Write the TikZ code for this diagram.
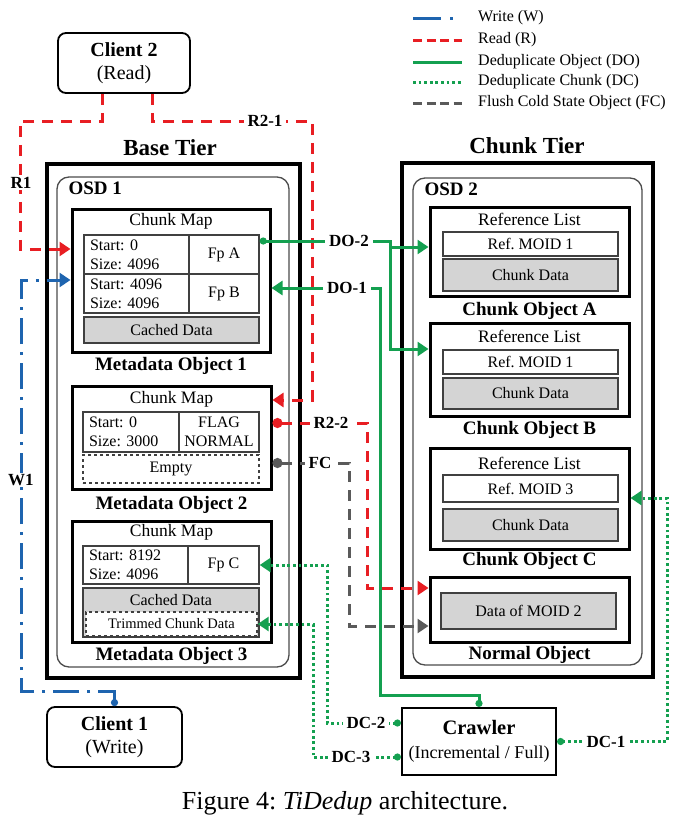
\documentclass[tikz,border=0pt]{standalone}
\usepackage{fontspec}
\setmainfont{Liberation Serif}
\usetikzlibrary{arrows.meta, positioning}

\definecolor{wblue}{RGB}{30,100,175}
\definecolor{rred}{RGB}{232,30,35}
\definecolor{dgreen}{RGB}{20,160,80}
\definecolor{fcgrey}{RGB}{90,90,90}
\definecolor{cellgrey}{RGB}{212,212,212}

\newcommand\cellfnt{\fontsize{16}{19}\selectfont}
\newcommand\headfnt{\fontsize{17.5}{20}\selectfont}
\newcommand\subfnt{\fontsize{19}{22}\selectfont\bfseries}
\newcommand\tierfnt{\fontsize{23}{26}\selectfont\bfseries}
\newcommand\clientfnt{\fontsize{20}{23}\selectfont}
\newcommand\lblfnt{\fontsize{17}{20}\selectfont\bfseries}
\newcommand\lgdfnt{\fontsize{16}{19}\selectfont}
\newcommand\captfnt{\fontsize{26}{30}\selectfont}
\newcommand\trimfnt{\fontsize{14.5}{17}\selectfont}
\frenchspacing

\begin{document}
\begin{tikzpicture}[x=1pt, y=-1pt,
    tier/.style={draw, line width=3.5pt, inner sep=0pt},
    osd/.style={draw=black!70, line width=1.3pt, rounded corners=12pt, inner sep=0pt},
    obj/.style={draw, line width=3pt, inner sep=0pt},
    cell/.style={draw=black!75, line width=1.4pt, inner sep=0pt, font=\cellfnt, align=center},
    lcell/.style={cell, align=left},
    grey/.style={cell, fill=cellgrey},
    hollow/.style={cell, dashed, fill=white},
    client/.style={draw, line width=1.8pt, rounded corners=8pt, inner sep=0pt, align=center, font=\clientfnt},
    head/.style={inner sep=0pt, font=\headfnt},
    subttl/.style={inner sep=0pt, font=\subfnt},
    lbl/.style={fill=white, inner xsep=4pt, inner ysep=1pt, font=\lblfnt},
    lgd/.style={anchor=west, inner sep=0pt, font=\lgdfnt},
    wline/.style={wblue, line width=3pt, dash pattern=on 26pt off 8pt on 3pt off 8pt},
    rline/.style={rred, line width=3pt, dash pattern=on 11pt off 8pt},
    doline/.style={dgreen, line width=3pt},
    dcline/.style={dgreen, line width=3pt, dash pattern=on 2.8pt off 2.8pt},
    fcline/.style={fcgrey, line width=3pt, dash pattern=on 11pt off 8pt},
    tip/.style={-{Triangle[length=11pt,width=14pt]}},
    dottip/.style={{Circle[length=10pt]}-{Triangle[length=11pt,width=14pt]}},
    gdottip/.style={{Circle[length=7pt]}-{Triangle[length=11pt,width=14pt]}},
  ]
  \useasboundingbox (0,0) rectangle (692,827);

  % Leyenda
  \draw[wline, dash pattern=on 28pt off 9pt on 3pt off 20pt] (413,18) -- (462,18);
  \node[lgd] (lgw) at (478,18) {Write (W)};
  \draw[rline, dash pattern=on 9pt off 4.5pt] (413,40) -- (462,40);
  \node[lgd] (lgr) at (478,40) {Read (R)};
  \draw[doline] (413,62) -- (462,62);
  \node[lgd] (lgdo) at (478,62) {Deduplicate Object (DO)};
  \draw[dcline] (413,82) -- (462,82);
  \node[lgd] (lgdc) at (478,82) {Deduplicate Chunk (DC)};
  \draw[fcline, dash pattern=on 9pt off 4.5pt] (413,103) -- (462,103);
  \node[lgd] (lgfc) at (478,103) {Flush Cold State Object (FC)};

  % Clientes
  \node[client, minimum width=132pt, minimum height=60pt] (cl2) at (124,63) {{\bfseries Client 2}\\(Read)};
  \node[client, minimum width=135pt, minimum height=60pt] (cl1) at (114.5,737) {{\bfseries Client 1}\\(Write)};

  % Base Tier
  \node[tier, minimum width=253pt, minimum height=514pt] (base) at (173.5,421) {};
  \node[inner sep=0pt, font=\tierfnt] (basettl) at (170,148) {Base Tier};
  \node[osd, minimum width=232pt, minimum height=490pt] (osd1) at (173,422) {};
  \node[subttl, anchor=north west] (osd1ttl) at ([xshift=12pt,yshift=-5pt]osd1.north west) {OSD 1};

  % Metadata Object 1
  \node[obj, minimum width=198pt, minimum height=143pt] (mo1) at (171,280.5) {};
  \node[head] (cm1) at ([yshift=-14pt]mo1.north) {Chunk Map};
  \node[lcell, minimum width=105pt, minimum height=39pt, text width=93pt] (sa) at (136.5,254.5) {Start: 0\\Size: 4096};
  \node[cell, minimum width=70pt, minimum height=39pt] (fpa) at (224,254.5) {Fp A};
  \node[lcell, minimum width=105pt, minimum height=39pt, text width=93pt] (sb) at (136.5,293.5) {Start: 4096\\Size: 4096};
  \node[cell, minimum width=70pt, minimum height=39pt] (fpb) at (224,293.5) {Fp B};
  \node[grey, minimum width=175pt, minimum height=26pt] (cache1) at (171.5,330) {Cached Data};
  \node[subttl] (mo1ttl) at ([yshift=-12pt]mo1.south) {Metadata Object 1};

  % Metadata Object 2
  \node[obj, minimum width=199pt, minimum height=103pt] (mo2) at (171.5,437.5) {};
  \node[head] (cm2) at ([yshift=-15pt]mo2.north) {Chunk Map};
  \node[lcell, minimum width=96pt, minimum height=40pt, text width=84pt] (s2) at (131,432) {Start: 0\\Size: 3000};
  \node[cell, minimum width=80pt, minimum height=40pt] (flag) at (219,432) {FLAG\\NORMAL};
  \node[hollow, minimum width=176pt, minimum height=28pt] (empty) at (171,469) {Empty};
  \node[subttl] (mo2ttl) at ([yshift=-14pt]mo2.south) {Metadata Object 2};

  % Metadata Object 3
  \node[obj, minimum width=199pt, minimum height=121pt] (mo3) at (171.5,581.5) {};
  \node[head] (cm3) at ([yshift=-13pt]mo3.north) {Chunk Map};
  \node[lcell, minimum width=105pt, minimum height=38pt, text width=93pt] (s3) at (135.5,565) {Start: 8192\\Size: 4096};
  \node[cell, minimum width=71pt, minimum height=38pt] (fpc) at (223.5,565) {Fp C};
  \node[grey, minimum width=176pt, minimum height=49pt] (cache3) at (171,612.5) {};
  \node[inner sep=0pt, font=\cellfnt] (cache3ttl) at ([yshift=-13pt]cache3.north) {Cached Data};
  \node[hollow, minimum width=171pt, minimum height=24pt, font=\trimfnt] (trim) at (171.5,624) {Trimmed Chunk Data};
  \node[subttl] (mo3ttl) at ([yshift=-12pt]mo3.south) {Metadata Object 3};

  % Chunk Tier
  \node[tier, minimum width=251pt, minimum height=514pt] (chunk) at (527.5,420) {};
  \node[inner sep=0pt, font=\tierfnt] (chunkttl) at (527,146) {Chunk Tier};
  \node[osd, minimum width=229pt, minimum height=487pt] (osd2) at (527.5,421.5) {};
  \node[subttl, anchor=north west] (osd2ttl) at ([xshift=12pt,yshift=-5pt]osd2.north west) {OSD 2};

  % Chunk Object A
  \node[obj, minimum width=199pt, minimum height=89pt] (cha) at (529.5,251.5) {};
  \node[head] (rla) at ([yshift=-14pt]cha.north) {Reference List};
  \node[cell, minimum width=175pt, minimum height=24pt] (refa) at (530.5,244) {Ref. MOID 1};
  \node[grey, minimum width=175pt, minimum height=32pt] (dataa) at (530.5,275) {Chunk Data};
  \node[subttl] (chattl) at ([yshift=-13pt]cha.south) {Chunk Object A};

  % Chunk Object B
  \node[obj, minimum width=199pt, minimum height=93pt] (chb) at (529.5,369.5) {};
  \node[head] (rlb) at ([yshift=-15pt]chb.north) {Reference List};
  \node[cell, minimum width=175pt, minimum height=24pt] (refb) at (530.5,362) {Ref. MOID 1};
  \node[grey, minimum width=175pt, minimum height=31pt] (datab) at (530.5,393.5) {Chunk Data};
  \node[subttl] (chbttl) at ([yshift=-12pt]chb.south) {Chunk Object B};

  % Chunk Object C
  \node[obj, minimum width=199pt, minimum height=101pt] (chc) at (529.5,498.5) {};
  \node[head] (rlc) at ([yshift=-17pt]chc.north) {Reference List};
  \node[cell, minimum width=175pt, minimum height=27pt] (refc) at (530.5,488.5) {Ref. MOID 3};
  \node[grey, minimum width=175pt, minimum height=32pt] (datac) at (530.5,525) {Chunk Data};
  \node[subttl] (chcttl) at ([yshift=-10pt]chc.south) {Chunk Object C};

  % Normal Object
  \node[obj, minimum width=199pt, minimum height=65pt] (normal) at (529.5,609.5) {};
  \node[grey, minimum width=175pt, minimum height=36pt] (data2) at (528.5,611) {Data of MOID 2};
  \node[subttl] (normalttl) at ([yshift=-11pt]normal.south) {Normal Object};

  % Crawler
  \node[draw, line width=2.2pt, minimum width=154pt, minimum height=67pt, inner sep=0pt, align=center,
        font=\fontsize{18}{24}\selectfont] (crawler) at (479,741.5)
        {{\fontsize{20.5}{24}\selectfont\bfseries Crawler}\\(Incremental / Full)};

  % Escritura
  \draw[wline, gdottip] (cl1.north) -- (cl1.north |- 0,691) -| (21,280) -- (mo1.west |- 0,280);
  % Lecturas
  \draw[rline, tip] (cl2.south -| 102,0) -- (102,121) -| (20,249) -- (mo1.west |- 0,249);
  \draw[rline, tip] (cl2.south -| 152,0) -- (152,121) -| (312,400) -- (mo2.east |- 0,400);
  \draw[rline, dottip] (mo2.east |- 0,423) -- (367,423) |- (normal.west |- 0,588);
  % Flush
  \draw[fcline, dottip] (mo2.east |- 0,463) -- (349,463) |- (normal.west |- 0,626);
  % Deduplicate Object
  \coordinate (dosplit) at (390,241);
  \draw[doline, gdottip] (fpa.east |- 0,241) -- (dosplit) |- (cha.west |- 0,247);
  \draw[doline, tip] (dosplit) |- (chb.west |- 0,349);
  \draw[doline, gdottip] (crawler.north) -- (crawler.north |- 0,695) -| (380,288) -- (mo1.east |- 0,288);
  % Deduplicate Chunk
  \draw[dcline, gdottip] (crawler.east) -- (667,741.5) |- (chc.east |- 0,498);
  \draw[dcline, gdottip] (crawler.west |- 0,723) -- (327,723) |- (fpc.east);
  \draw[dcline, gdottip] (crawler.west |- 0,757) -- (313,757) |- (trim.east);

  % Etiquetas
  \node[lbl] (lw1) at (21,480) {W1};
  \node[lbl] (lr1) at (21,183) {R1};
  \node[lbl] (lr21) at (265,121) {R2-1};
  \node[lbl] (lr22) at (331,423) {R2-2};
  \node[lbl] (lfc) at (320,463) {FC};
  \node[lbl] (ldo2) at (349,241) {DO-2};
  \node[lbl] (ldo1) at (347,288) {DO-1};
  \node[lbl] (ldc1) at (606,741.5) {DC-1};
  \node[lbl] (ldc2) at (366,723) {DC-2};
  \node[lbl] (ldc3) at (351,757) {DC-3};

  % Pie de figura
  \node[inner sep=0pt, font=\captfnt] (cap) at (345,803) {Figure 4: \textit{TiDedup} architecture.};
\end{tikzpicture}
\end{document}
